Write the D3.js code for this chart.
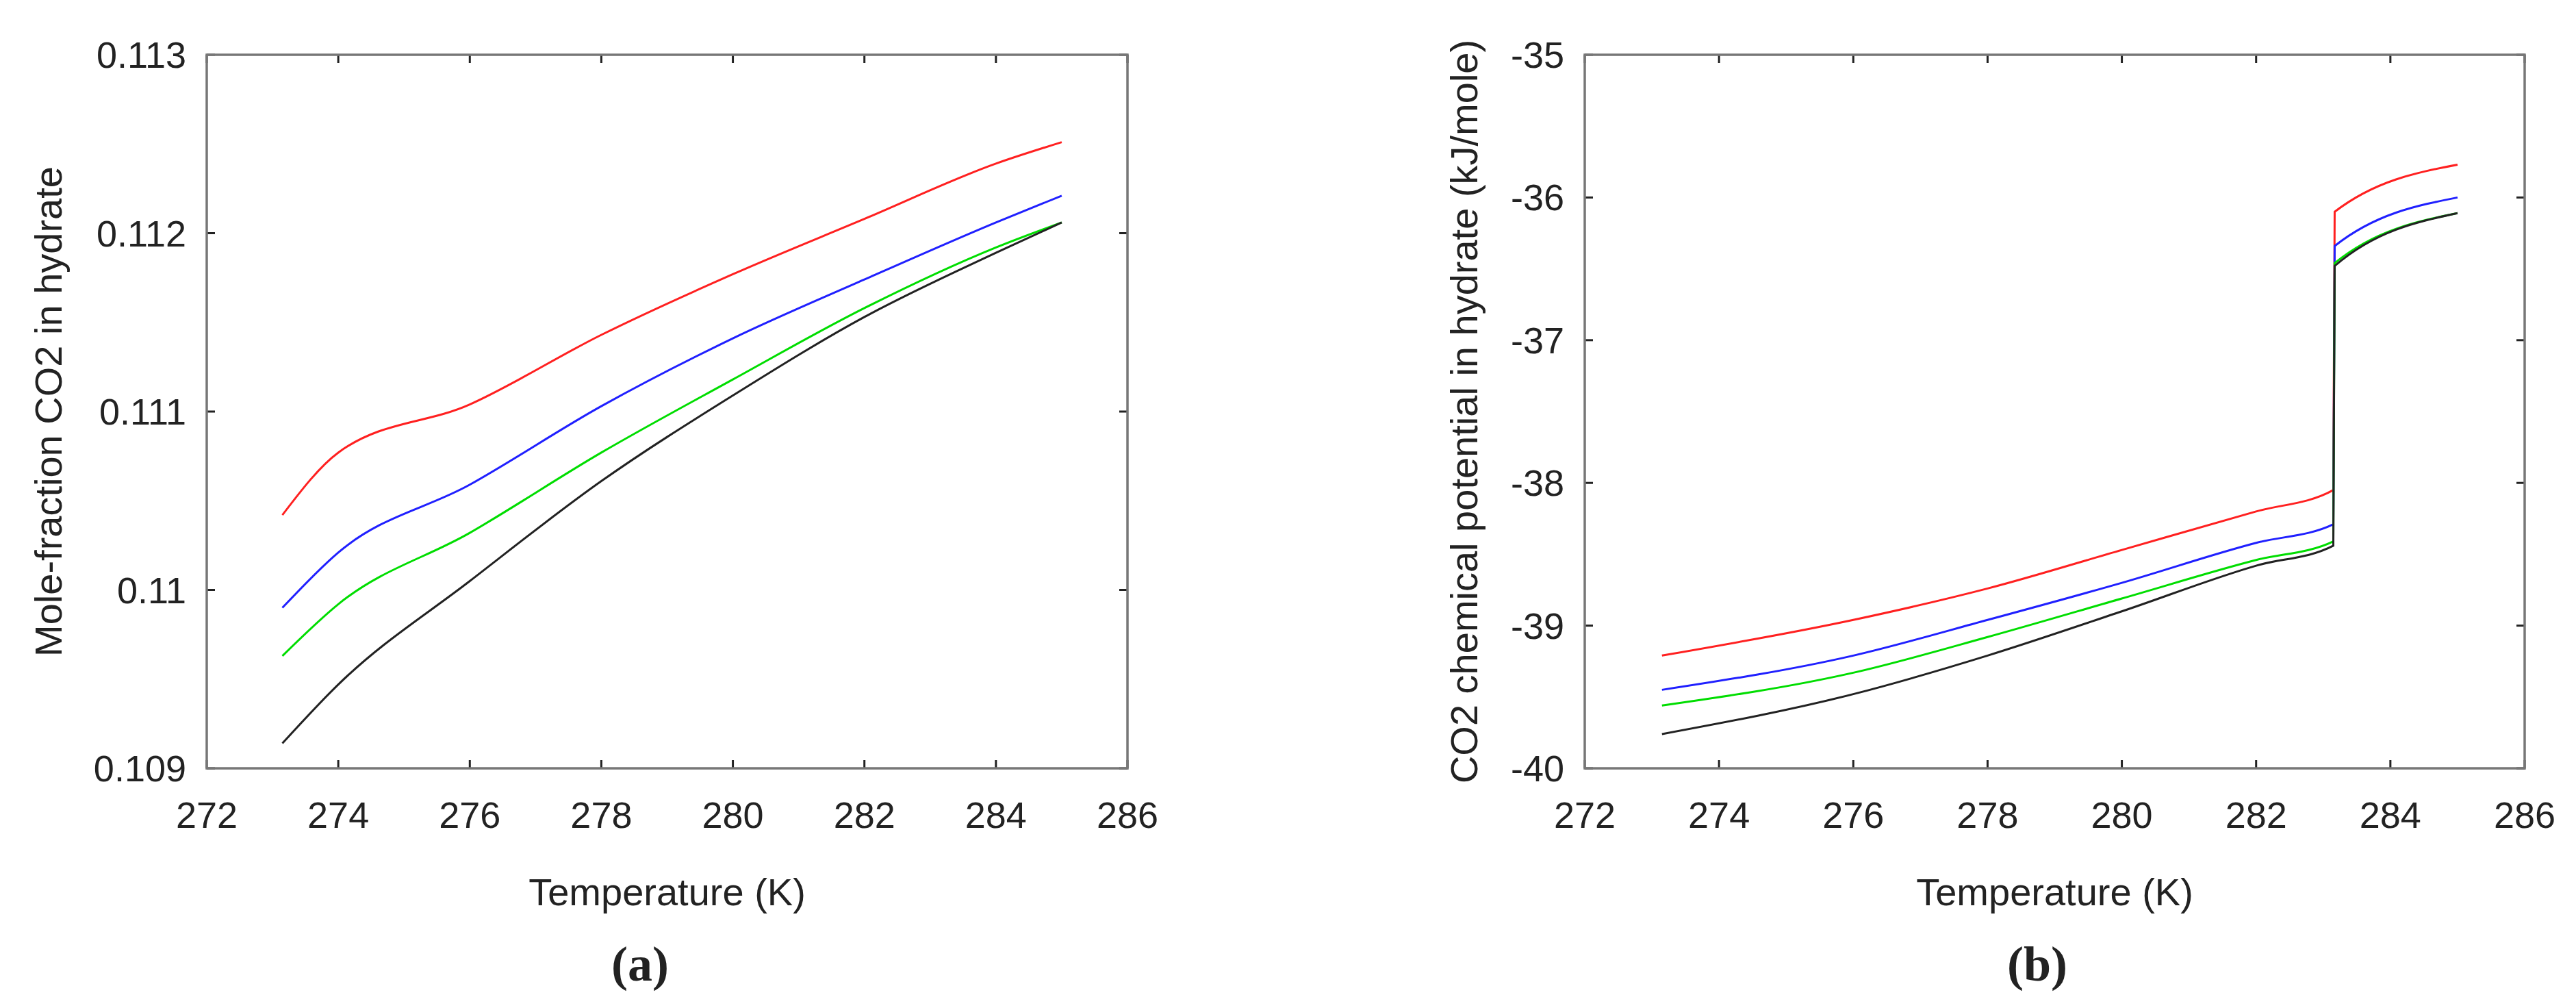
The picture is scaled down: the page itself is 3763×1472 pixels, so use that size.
<!DOCTYPE html>
<html><head><meta charset="utf-8">
<script src="https://cdn.jsdelivr.net/npm/d3@7"></script>
<style>body{margin:0;background:#fff}svg text{font-family:"Liberation Sans",Arial,sans-serif;fill:#222}</style>
</head><body>
<svg id="c" width="3763" height="1472"></svg>
<script>
const colors = ["#ff2020","#2020ff","#00dd00","#222222"];
const xTicks = [272,274,276,278,280,282,284,286];
// Panel (a)
const aT = [273.15,274,276,278,280,282,284,285];
const aRed   = [0.11042,0.11077,0.11104,0.11143,0.11177,0.11208,0.11239,0.11251];
const aBlue  = [0.10990,0.11021,0.11059,0.11103,0.11141,0.11174,0.11206,0.11221];
const aGreen = [0.10963,0.10992,0.11032,0.11077,0.11118,0.11158,0.11192,0.11206];
const aBlack = [0.10914,0.10947,0.11005,0.11061,0.11109,0.11153,0.11189,0.11206];
const aYTicks = [0.109,0.11,0.111,0.112,0.113];
// Panel (b)
const bT = [273.15,276,278,280,282,283.15,283.17,285];
const bRed   = [-39.21,-38.96,-38.74,-38.47,-38.20,-38.05,-36.10,-35.77];
const bBlue  = [-39.45,-39.21,-38.96,-38.70,-38.42,-38.29,-36.34,-36.00];
const bGreen = [-39.56,-39.33,-39.08,-38.81,-38.54,-38.41,-36.46,-36.11];
const bBlack = [-39.76,-39.48,-39.21,-38.90,-38.58,-38.44,-36.48,-36.11];
const bYTicks = [-40,-39,-38,-37,-36,-35];

const svg = d3.select("#c");
function panel(o){
  const x = d3.scaleLinear().domain([272,286]).range([o.x0,o.x1]);
  const y = d3.scaleLinear().domain(o.yd).range([1122,80]);
  const g = svg.append("g");
  const tl = 12;
  xTicks.forEach(t=>{
    g.append("line").attr("x1",x(t)).attr("x2",x(t)).attr("y1",1122).attr("y2",1122-tl).attr("stroke","#222").attr("stroke-width",3);
    g.append("line").attr("x1",x(t)).attr("x2",x(t)).attr("y1",80).attr("y2",80+tl).attr("stroke","#222").attr("stroke-width",3);
    g.append("text").attr("x",x(t)).attr("y",1209).attr("text-anchor","middle").attr("font-size",54).text(t);
  });
  o.yt.forEach(t=>{
    g.append("line").attr("x1",o.x0).attr("x2",o.x0+tl).attr("y1",y(t)).attr("y2",y(t)).attr("stroke","#222").attr("stroke-width",3);
    g.append("line").attr("x1",o.x1).attr("x2",o.x1-tl).attr("y1",y(t)).attr("y2",y(t)).attr("stroke","#222").attr("stroke-width",3);
    g.append("text").attr("x",o.x0-30).attr("y",y(t)+19).attr("text-anchor","end").attr("font-size",54).text(o.fmt(t));
  });
  g.append("rect").attr("x",o.x0).attr("y",80).attr("width",o.x1-o.x0).attr("height",1042).attr("fill","none").attr("stroke","#777").attr("stroke-width",3.5);
  const line = d3.line().x((d,i)=>x(o.t[i])).y(d=>y(d)).curve(d3.curveMonotoneX);
  o.series.forEach((s,i)=>{
    g.append("path").attr("d",line(s)).attr("fill","none").attr("stroke",colors[i]).attr("stroke-width",3);
  });
  g.append("text").attr("x",(o.x0+o.x1)/2).attr("y",1322).attr("text-anchor","middle").attr("font-size",56).text("Temperature (K)");
  g.append("text").attr("transform",`translate(${o.tx},${(80+1122)/2}) rotate(-90)`).attr("text-anchor","middle").attr("font-size",56).text(o.title);
  g.append("text").attr("x",o.cx).attr("y",1432).attr("text-anchor","middle").attr("font-size",72).attr("font-weight","bold")
    .style("font-family","'Liberation Serif','DejaVu Serif',serif").text(o.cap);
}
panel({x0:302,x1:1647,yd:[0.109,0.113],yt:aYTicks,fmt:d=>String(+d.toFixed(3)),t:aT,series:[aRed,aBlue,aGreen,aBlack],
  tx:90,title:"Mole-fraction CO2 in hydrate",cx:935,cap:"(a)"});
panel({x0:2315,x1:3688,yd:[-40,-35],yt:bYTicks,fmt:d=>String(d),t:bT,series:[bRed,bBlue,bGreen,bBlack],
  tx:2158,title:"CO2 chemical potential in hydrate  (kJ/mole)",cx:2976,cap:"(b)"});
</script>
</body></html>
